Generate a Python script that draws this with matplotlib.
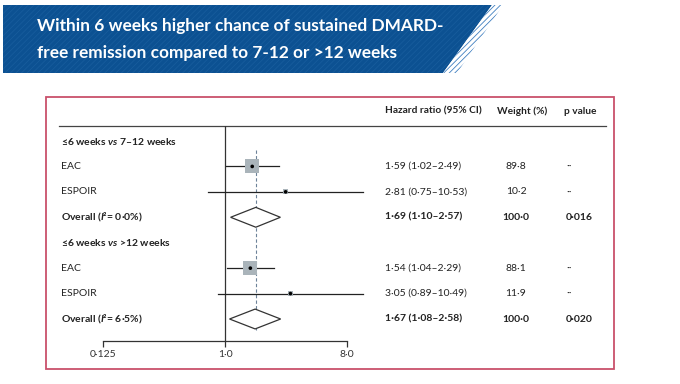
import numpy as np
import matplotlib.pyplot as plt
from matplotlib.patches import Polygon, Rectangle
from matplotlib import transforms
from matplotlib.ticker import NullLocator

plt.rcParams['font.family'] = ['Lato', 'DejaVu Sans']
plt.rcParams['mathtext.fontset'] = 'custom'
plt.rcParams['mathtext.it'] = 'Lato:italic:bold'
plt.rcParams['hatch.linewidth'] = 0.6

# data
title = ['Within 6 weeks higher chance of sustained DMARD-',
         'free remission compared to 7-12 or >12 weeks']
groups = ['≤6 weeks $vs$ 7–12 weeks', '≤6 weeks $vs$ >12 weeks']
studies = [['EAC', 'ESPOIR', 'Overall ($I$²= 0·0%)'],
           ['EAC', 'ESPOIR', 'Overall ($I$²= 6·5%)']]
hr = [[1.59, 2.81, 1.69], [1.54, 3.05, 1.67]]
lo = [[1.02, 0.75, 1.10], [1.04, 0.89, 1.08]]
hi = [[2.49, 10.53, 2.57], [2.29, 10.49, 2.58]]
weight = [[89.8, 10.2, 100.0], [88.1, 11.9, 100.0]]
pval = [['··', '··', '0·016'], ['··', '··', '0·020']]
xticks = [0.125, 1, 8]
xticklabels = ['0·125', '1·0', '8·0']

W, H = 680, 384
fig = plt.figure(figsize=(6.8, 3.84), dpi=100)
bg = fig.add_axes([0, 0, 1, 1])
bg.set_xlim(0, W)
bg.set_ylim(H, 0)
bg.axis('off')


def box(x0, y0, x1, y1):
    return [x0 / W, 1 - y1 / H, (x1 - x0) / W, (y1 - y0) / H]


def dot(v):
    return f'{v:.2f}'.replace('.', '·')


# banner
bg.add_patch(Polygon([(3, 5), (492, 5), (443, 73), (3, 73)], closed=True,
                     facecolor='#0c5192', edgecolor='none'))
bg.add_patch(Polygon([(3, 5), (492, 5), (443, 73), (3, 73)], closed=True,
                     facecolor='none', edgecolor='#175c9c', hatch='//////', lw=0))
bg.add_patch(Polygon([(492, 5), (503, 5), (457, 73), (443, 73)], closed=True,
                     facecolor='#ffffff', edgecolor='#3f7fc0', hatch='//////', lw=0))
for i, line in enumerate(title):
    bg.text(37, 26 + 27 * i, line, color='white', fontsize=12.4, fontweight='bold',
            va='center', ha='left', family=['Liberation Sans Narrow', 'Lato'])

# frame
bg.add_patch(Rectangle((46, 97), 568, 272, fill=False, edgecolor='#c9506b', lw=1.3))
bg.plot([59, 606], [126, 126], color='#444444', lw=0.9)

# forest axes
ax = fig.add_axes(box(103, 126, 387.7, 341))
ax.patch.set_alpha(0)
ax.set_xscale('log', base=2)
ax.set_xlim(0.125, 16)
ax.set_ylim(7.865, -0.59)
for s in ['top', 'right', 'left']:
    ax.spines[s].set_visible(False)
ax.spines['bottom'].set_bounds(0.125, 8)
ax.spines['bottom'].set_color('#333333')
ax.spines['bottom'].set_linewidth(0.9)
ax.set_xticks(xticks)
ax.set_xticklabels(xticklabels)
ax.xaxis.set_minor_locator(NullLocator())
ax.tick_params(axis='x', direction='out', length=4.5, width=0.9, color='#333333',
               labelsize=7.5, labelcolor='#333333', pad=2)
ax.set_yticks([])
ax.axvline(1, color='#333333', lw=0.9)
ax.vlines(hr[0][2], 0.35, 7.45, colors='#6d8299', lw=0.8, linestyles=(0, (3, 2)))

trans = transforms.blended_transform_factory(bg.transData, ax.transData)
fs = 7.5
tc = '#222222'
bg.text(385, 111, 'Hazard ratio (95% CI)', fontsize=7.3, color=tc, va='center', fontweight='bold')
bg.text(497, 111, 'Weight (%)', fontsize=7.3, color=tc, va='center', fontweight='bold')
bg.text(564, 111, 'p value', fontsize=7.3, color=tc, va='center', fontweight='bold')

row = 0
for g in range(2):
    ax.text(61, row, groups[g], transform=trans, fontsize=fs, color=tc,
            va='center', fontweight='bold')
    row += 1
    for k in range(3):
        overall = k == 2
        fw = 'bold' if overall else 'normal'
        ax.text(61, row, studies[g][k], transform=trans, fontsize=fs, color=tc,
                va='center', fontweight=fw)
        ax.text(385, row, f'{dot(hr[g][k])} ({dot(lo[g][k])}–{dot(hi[g][k])})',
                transform=trans, fontsize=fs, color=tc, va='center', fontweight=fw)
        ax.text(516, row, f'{weight[g][k]:.1f}'.replace('.', '·'), transform=trans,
                fontsize=fs, color=tc, va='center', ha='center', fontweight=fw)
        ax.text(566, row, pval[g][k], transform=trans, fontsize=fs, color=tc,
                va='center', fontweight=fw)
        if overall:
            h = 0.39
            ax.add_patch(Polygon([(lo[g][k], row), (hr[g][k], row - h),
                                  (hi[g][k], row), (hr[g][k], row + h)],
                                 closed=True, facecolor='white', edgecolor='#333333',
                                 lw=0.9, zorder=3))
        else:
            ax.plot([lo[g][k], hi[g][k]], [row, row], color='#222222', lw=0.9,
                    clip_on=False, zorder=2)
            side = 1.48 * np.sqrt(weight[g][k]) * 0.72
            ax.scatter([hr[g][k]], [row], marker='s', s=side ** 2, color='#aab4ba',
                       edgecolors='none', zorder=3, clip_on=False)
            ax.scatter([hr[g][k]], [row], marker='o', s=7, color='black',
                       edgecolors='none', zorder=4, clip_on=False)
        row += 1

fig.savefig('out.png', dpi=100)
